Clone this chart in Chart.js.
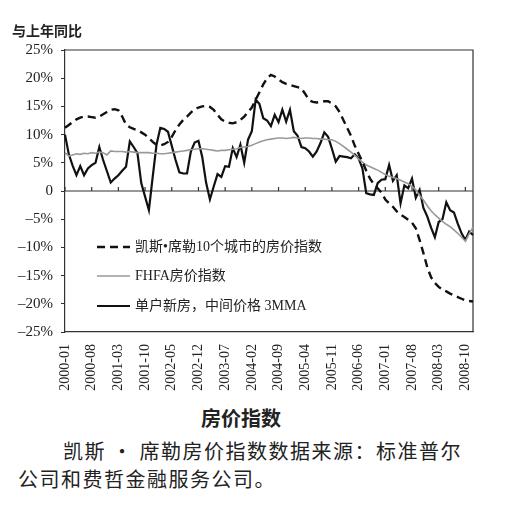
<!DOCTYPE html>
<html>
<head>
<meta charset="utf-8">
<script src="https://cdn.jsdelivr.net/npm/chart.js@4.4.1/dist/chart.umd.min.js"></script>
<style>
  body { margin: 0; background: #fff; width: 525px; height: 512px; position: relative; overflow: hidden; }
  #wrap { position: absolute; left: 0; top: 0; width: 525px; height: 400px; }
  .t { position: absolute; color: #222; white-space: nowrap; font-family: "Noto Sans CJK SC", sans-serif; }
  #ytitle { left: 12px; top: 20px; font-size: 14px; font-weight: bold; }
  #xtitle { left: 0; width: 482px; text-align: center; top: 403px; font-size: 20px; font-weight: bold; }
  .cap { font-size: 20px; letter-spacing: 1.5px; }
</style>
</head>
<body>
<div id="wrap"><canvas id="grafico"></canvas></div>
<div class="t" id="ytitle">与上年同比</div>
<div class="t" id="xtitle">房价指数</div>
<div class="t cap" style="left:63px; top:436px;">凯斯 · 席勒房价指数数据来源：标准普尔</div>
<div class="t cap" style="left:18px; top:464px;">公司和费哲金融服务公司。</div>
<script>
// Meses de 2000-01 a 2008-12
var meses = [];
for (var a = 2000; a <= 2008; a++) {
    for (var m = 1; m <= 12; m++) {
        meses.push(a + '-' + (m < 10 ? '0' + m : m));
    }
}

// Etiquetas que se muestran en el eje X
var etiquetasX = ['2000-01', '2000-08', '2001-03', '2001-10', '2002-05', '2002-12', '2003-07', '2004-02',
    '2004-09', '2005-04', '2005-11', '2006-06', '2007-01', '2007-08', '2008-03', '2008-10'];

// Marcas del eje Y
var ticksY = [-25, -20, -15, -10, -5, 0, 5, 10, 15, 20, 25];

var nombres = ['凯斯•席勒10个城市的房价指数', 'FHFA房价指数', '单户新房，中间价格 3MMA'];

// Case-Shiller 10 ciudades
var caseShiller = [
    11.2, 11.7, 12.2, 12.7, 13.0, 13.2, 13.2, 13.1, 13.0, 13.2, 13.6, 14.0,
    14.4, 14.5, 14.3, 13.2, 11.8, 11.3, 11.0, 10.8, 10.4, 10.0, 9.4, 8.7,
    8.2, 8.1, 8.3, 8.7, 9.6, 10.8, 11.8, 12.6, 13.2, 13.9, 14.5, 14.8,
    15.0, 15.1, 14.9, 14.4, 13.5, 12.7, 12.3, 12.1, 12.0, 12.2, 12.6, 13.2,
    14.0, 14.8, 16.2, 17.5, 18.9, 20.0, 20.6, 20.3, 19.8, 19.3, 19.0, 18.8,
    18.6, 18.4, 18.2, 17.2, 16.1, 15.8, 15.7, 15.8, 15.9, 15.9, 15.5, 15.0,
    14.0, 12.6, 11.2, 9.8, 8.0, 6.6, 5.2, 3.6, 2.2, 1.2, 0.5, -0.3,
    -1.5, -2.2, -2.8, -3.6, -4.2, -4.6, -5.1, -5.6, -6.6, -8.7, -11.0, -13.5,
    -15.3, -16.3, -17.0, -17.5, -17.8, -18.2, -18.5, -18.8, -19.1, -19.4, -19.5, -19.6
];

// FHFA
var fhfa = [
    6.8, 6.2, 6.4, 6.6, 6.5, 6.7, 6.6, 6.8, 6.7, 6.9, 6.8, 6.4,
    7.1, 7.0, 7.0, 7.0, 6.9, 7.0, 6.9, 6.8, 6.8, 6.8, 6.8, 6.7,
    6.7, 6.6, 6.6, 6.7, 6.8, 6.9, 7.0, 7.1, 7.2, 7.3, 7.4, 7.5,
    7.5, 7.4, 7.3, 7.2, 7.1, 7.2, 7.2, 7.3, 7.4, 7.5, 7.7, 7.8,
    7.9, 8.1, 8.4, 8.7, 8.9, 9.1, 9.2, 9.3, 9.4, 9.4, 9.3, 9.4,
    9.5, 9.4, 9.3, 9.4, 9.4, 9.3, 9.3, 9.2, 9.2, 9.1, 9.1, 8.8,
    8.4, 7.9, 7.4, 6.9, 6.3, 5.7, 5.1, 4.6, 4.3, 4.0, 3.7, 3.3,
    2.9, 2.6, 2.4, 2.2, 1.9, 1.6, 1.3, 0.8, 0.2, -0.8, -1.6, -2.6,
    -3.5, -4.2, -4.8, -5.4, -5.9, -6.3, -6.9, -7.5, -8.2, -8.9, -7.6, -6.4
];

// Vivienda nueva unifamiliar, precio mediano 3MMA
var casaNueva = [
    10.0, 6.5, 4.5, 2.8, 4.4, 2.8, 4.0, 4.6, 5.0, 7.8, 5.5, 3.5,
    1.5, 2.2, 2.8, 3.6, 4.3, 8.8, 7.8, 6.7, 1.4, -1.0, -3.4, 2.5,
    8.2, 11.2, 11.0, 10.5, 8.0, 5.5, 3.3, 3.1, 3.1, 7.0, 8.6, 8.9,
    6.0, 1.5, -1.5, 0.8, 3.0, 2.5, 4.4, 4.3, 7.6, 6.0, 8.2, 5.0,
    9.1, 10.6, 16.2, 15.4, 12.9, 12.5, 11.5, 13.5, 12.2, 14.4, 12.3, 14.4,
    10.6, 9.8, 7.8, 7.6, 7.0, 6.1, 7.0, 8.5, 10.4, 9.6, 7.5, 5.2,
    6.2, 6.1, 6.0, 5.8, 6.5, 5.8, 4.0, -0.4, -0.6, -0.7, 1.4, 2.0,
    2.1, 4.6, 1.8, 2.8, -2.2, 1.0, 0.5, 2.2, -1.2, 0.2, -3.0, -4.5,
    -6.5, -8.2, -5.5, -5.0, -2.0, -3.4, -3.8, -5.8, -7.5, -8.7, -7.2, -7.8
];

var colorTexto = '#222';

// Marco, línea del cero y leyenda
var marco = {
    id: 'marco',
    beforeDatasetsDraw: function(chart) {
        var ctx = chart.ctx, area = chart.chartArea;
        var y0 = chart.scales.y.getPixelForValue(0);
        ctx.save();
        ctx.strokeStyle = '#333';
        ctx.lineWidth = 1.2;
        ctx.beginPath();
        ctx.moveTo(area.left, area.top);
        ctx.lineTo(area.right, area.top);
        ctx.lineTo(area.right, area.bottom);
        ctx.moveTo(area.left, y0);
        ctx.lineTo(area.right, y0);
        for (var i = 0; i < meses.length; i++) {
            if (etiquetasX.indexOf(meses[i]) >= 0) {
                var px = chart.scales.x.getPixelForValue(i);
                ctx.moveTo(px, y0);
                ctx.lineTo(px, y0 - 4);
            }
        }
        ctx.stroke();
        ctx.restore();
    },
    afterDraw: function(chart) {
        var ctx = chart.ctx;
        ctx.save();
        ctx.font = '14px "Liberation Serif", "Noto Sans CJK SC"';
        ctx.fillStyle = colorTexto;
        ctx.textBaseline = 'middle';
        var filas = [247, 276, 306];
        chart.data.datasets.forEach(function(ds, k) {
            ctx.strokeStyle = ds.borderColor;
            ctx.lineWidth = ds.borderWidth;
            ctx.setLineDash(ds.borderDash || []);
            ctx.beginPath();
            ctx.moveTo(97, filas[k]);
            ctx.lineTo(130, filas[k]);
            ctx.stroke();
            ctx.setLineDash([]);
            ctx.fillText(ds.label, 135, filas[k]);
        });
        ctx.restore();
    }
};

var ctx = document.getElementById('grafico').getContext('2d');
var grafico = new Chart(ctx, {
    type: 'line',
    data: {
        labels: meses,
        datasets: [{
            label: nombres[0],
            data: caseShiller,
            borderColor: '#111',
            borderWidth: 2.4,
            borderDash: [8, 5]
        }, {
            label: nombres[1],
            data: fhfa,
            borderColor: '#999',
            borderWidth: 1.6
        }, {
            label: nombres[2],
            data: casaNueva,
            borderColor: '#111',
            borderWidth: 2.2
        }]
    },
    options: {
        responsive: true,
        maintainAspectRatio: false,
        animation: false,
        elements: { point: { radius: 0 }, line: { tension: 0 } },
        layout: { padding: { top: 50, right: 52, left: 0, bottom: 0 } },
        plugins: { legend: { display: false }, tooltip: { enabled: false } },
        scales: {
            x: {
                offset: false,
                grid: { display: false, drawTicks: false },
                border: { display: true, color: '#333', width: 1.2 },
                afterFit: function(s) { s.height = 68; },
                ticks: {
                    autoSkip: false,
                    maxRotation: 90,
                    minRotation: 90,
                    padding: 12,
                    color: colorTexto,
                    font: { family: '"Liberation Serif"', size: 14 },
                    callback: function(v, i) {
                        return etiquetasX.indexOf(meses[i]) >= 0 ? meses[i] : null;
                    }
                }
            },
            y: {
                min: -25,
                max: 25,
                afterFit: function(s) { s.width = 65; },
                afterBuildTicks: function(s) {
                    s.ticks = ticksY.map(function(v) { return { value: v }; });
                },
                grid: { drawOnChartArea: false, drawTicks: true, tickLength: 4, color: '#333' },
                border: { display: true, color: '#333', width: 1.2 },
                ticks: {
                    padding: 8,
                    color: colorTexto,
                    font: { family: '"Liberation Serif"', size: 15 },
                    callback: function(v) {
                        if (v === 0) return '0';
                        return (v < 0 ? '–' + (-v) : v) + '%';
                    }
                }
            }
        }
    },
    plugins: [marco]
});
</script>
</body>
</html>
